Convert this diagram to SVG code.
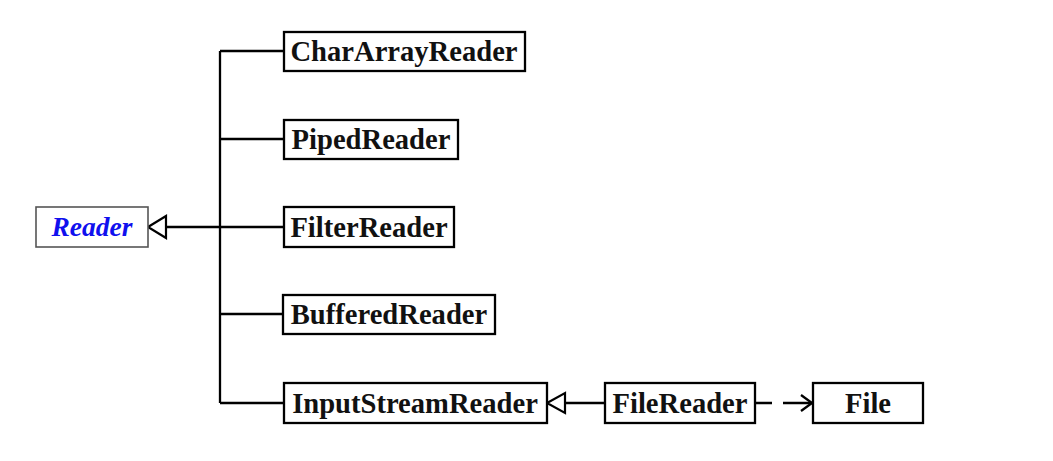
<svg xmlns="http://www.w3.org/2000/svg" width="1053" height="461" viewBox="0 0 1053 461">
<style>
.box{fill:#fff;stroke:#000;stroke-width:2.3}
.lbl{font-family:"Liberation Serif","Times New Roman",serif;font-weight:bold;font-size:28.6px;text-anchor:middle;fill:#111}
.ln{stroke:#000;stroke-width:2.3;fill:none}
.tri{fill:#fff;stroke:#000;stroke-width:2.2;stroke-linejoin:miter}
</style>
<rect width="1053" height="461" fill="#fff"/>
<g id="connectors">
<path class="ln" d="M220 51V403M220 51H284M220 139H284M220 227H284M220 314H284M220 403H284M167 227H220"/>
<polygon class="tri" points="148,227 166,216 166,238"/>
<path class="ln" d="M565 403H605"/>
<polygon class="tri" points="547,403 565,393 565,413"/>
<path class="ln" d="M755 403H772M783 403H812"/>
<path class="ln" d="M801 395L812 403L801 411"/>
</g>
<g id="Reader">
<rect x="36" y="207" width="112" height="40" fill="#fff" stroke="#555" stroke-width="1.6"/>
<text x="92" y="236" style="font-family:'Liberation Serif','Times New Roman',serif;font-weight:bold;font-style:italic;font-size:27.5px;text-anchor:middle;fill:#1010ee">Reader</text>
</g>
<g id="CharArrayReader">
<rect class="box" x="284" y="32" width="241" height="39"/>
<text class="lbl" x="404" y="61">CharArrayReader</text>
</g>
<g id="PipedReader">
<rect class="box" x="284" y="120" width="174" height="39"/>
<text class="lbl" x="371" y="149">PipedReader</text>
</g>
<g id="FilterReader">
<rect class="box" x="284" y="207" width="170" height="40"/>
<text class="lbl" x="369" y="237">FilterReader</text>
</g>
<g id="BufferedReader">
<rect class="box" x="283" y="295" width="212" height="39"/>
<text class="lbl" x="389" y="324">BufferedReader</text>
</g>
<g id="InputStreamReader">
<rect class="box" x="284" y="383" width="263" height="40"/>
<text class="lbl" x="415" y="413">InputStreamReader</text>
</g>
<g id="FileReader">
<rect class="box" x="605" y="383" width="150" height="40"/>
<text class="lbl" x="680" y="413">FileReader</text>
</g>
<g id="File">
<rect class="box" x="813" y="383" width="110" height="40"/>
<text class="lbl" x="868" y="413">File</text>
</g>
</svg>
